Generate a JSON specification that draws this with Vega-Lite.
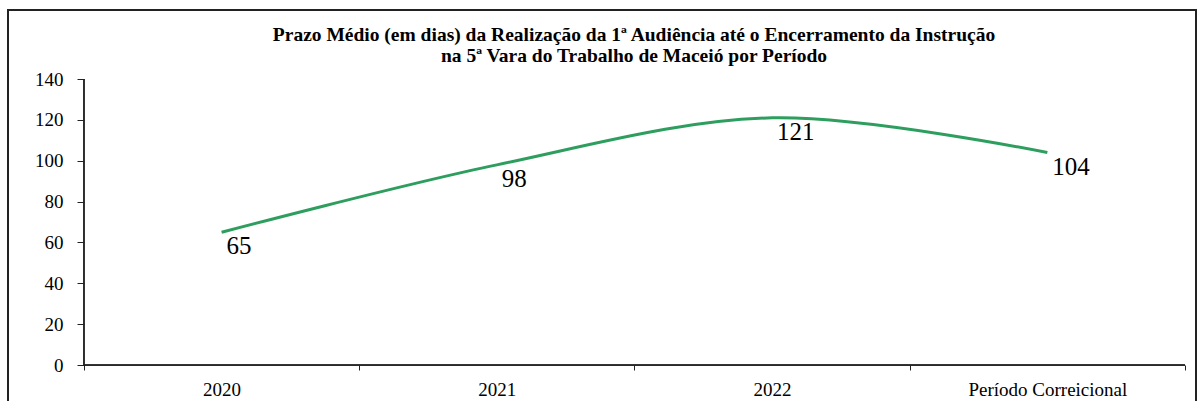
{
  "$schema": "https://vega.github.io/schema/vega-lite/v6.json",
  "width": 1188,
  "height": 400,
  "autosize": {"type": "none"},
  "padding": {"left": 8, "top": 10, "right": 1, "bottom": 0},
  "background": "white",
  "config": {
    "font": "Liberation Serif, Times New Roman, serif",
    "view": {"stroke": "#222222", "strokeWidth": 2},
    "axis": {"grid": false, "domain": false, "labelColor": "black", "tickColor": "#222222", "labelFont": "Liberation Serif, Times New Roman, serif", "labelFontSize": 19, "labelOverlap": false, "labelFlush": false, "title": null}
  },
  "title": {
    "text": ["Prazo Médio (em dias) da Realização da 1ª Audiência até o Encerramento da Instrução", "na 5ª Vara do Trabalho de Maceió por Período"],
    "font": "Liberation Serif, Times New Roman, serif",
    "fontSize": 19.5,
    "fontWeight": "bold",
    "color": "black",
    "anchor": "middle",
    "frame": "group",
    "baseline": "top",
    "lineHeight": 21,
    "dx": 32,
    "offset": -56
  },
  "data": {
    "values": [
      {"ordem": 1, "periodo": "2020", "valor": 65},
      {"ordem": 2, "periodo": "2021", "valor": 98},
      {"ordem": 3, "periodo": "2022", "valor": 121},
      {"ordem": 4, "periodo": "Período Correicional", "valor": 104}
    ]
  },
  "encoding": {
    "x": {
      "field": "ordem",
      "type": "quantitative",
      "scale": {"domain": [0.224, 4.54], "nice": false, "zero": false},
      "axis": {
        "orient": "bottom",
        "offset": -45,
        "values": [0.5, 1, 1.5, 2, 2.5, 3, 3.5, 4, 4.5],
        "tickSize": 5,
        "tickWidth": 1,
        "tickOpacity": {"condition": {"test": "datum.value % 1 !== 0", "value": 1}, "value": 0},
        "labelPadding": 10,
        "labelBaseline": "top",
        "labelExpr": "datum.value % 1 === 0 ? ['', '2020', '2021', '2022', 'Período Correicional'][datum.value] : ''"
      }
    },
    "y": {
      "field": "valor",
      "type": "quantitative",
      "scale": {"domain": [-22, 173.8], "nice": false, "zero": false},
      "axis": {
        "orient": "left",
        "offset": -76,
        "values": [0, 20, 40, 60, 80, 100, 120, 140],
        "tickSize": 7,
        "tickWidth": 1,
        "labelPadding": 14
      }
    }
  },
  "layer": [
    {
      "mark": {"type": "rule", "color": "#222222", "strokeWidth": 1},
      "encoding": {
        "x": {"datum": 0.5, "type": "quantitative"},
        "x2": {"datum": 4.5},
        "y": {"datum": 0, "type": "quantitative"}
      }
    },
    {
      "mark": {"type": "rule", "color": "#222222", "strokeWidth": 1},
      "encoding": {
        "x": {"datum": 0.5, "type": "quantitative"},
        "y": {"datum": 0, "type": "quantitative"},
        "y2": {"datum": 140}
      }
    },
    {
      "mark": {"type": "line", "interpolate": "cardinal", "color": "#2e9e5f", "strokeWidth": 3}
    },
    {
      "mark": {"type": "text", "align": "left", "baseline": "alphabetic", "dx": 5, "dy": 22, "fontSize": 25, "font": "Liberation Serif, Times New Roman, serif", "color": "black"},
      "encoding": {"text": {"field": "valor", "type": "quantitative"}}
    }
  ]
}
